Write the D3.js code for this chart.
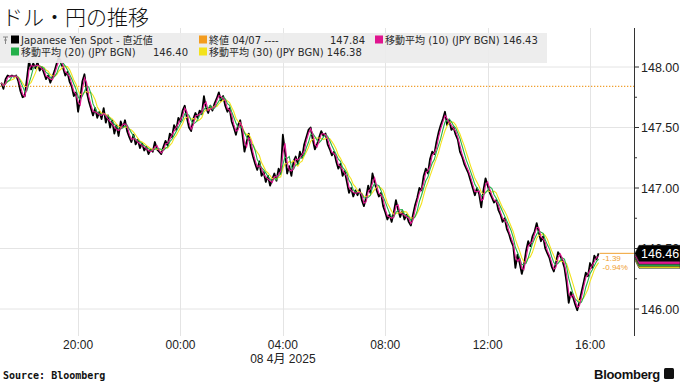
<!DOCTYPE html>
<html>
<head>
<meta charset="utf-8">
<script src="https://cdn.jsdelivr.net/npm/d3@7"></script>
<style>
body { margin: 0; background: #fff; }
</style>
</head>
<body>
<script>
// ---- data ----
var title = "ドル・円の推移";
var startTime = Date.UTC(2025, 3, 7, 17, 0);  // 04/07 17:00, 5 minute steps
var stepMin = 5;

var spot = [
  147.87,147.82,147.90,147.93,147.92,147.93,147.92,147.93,147.88,147.80,147.75,147.76,
  147.90,148.05,147.98,148.03,147.99,148.04,147.97,148.00,147.95,147.90,147.93,147.87,
  147.92,147.97,148.03,148.08,148.03,147.99,147.93,147.96,147.88,147.84,147.76,147.79,
  147.63,147.74,147.88,147.94,147.80,147.72,147.66,147.60,147.66,147.58,147.63,147.57,
  147.66,147.54,147.60,147.50,147.56,147.45,147.52,147.43,147.55,147.50,147.56,147.47,
  147.42,147.38,147.44,147.36,147.40,147.33,147.37,147.31,147.34,147.28,147.32,147.30,
  147.38,147.32,147.30,147.28,147.34,147.39,147.35,147.45,147.42,147.52,147.48,147.58,
  147.55,147.64,147.68,147.58,147.50,147.47,147.57,147.62,147.58,147.64,147.61,147.76,
  147.66,147.62,147.68,147.64,147.70,147.74,147.79,147.72,147.76,147.68,147.63,147.66,
  147.55,147.50,147.44,147.52,147.56,147.45,147.30,147.38,147.45,147.33,147.26,147.20,
  147.15,147.22,147.10,147.13,147.05,147.10,147.02,147.07,147.12,147.06,147.16,147.12,
  147.44,147.30,147.12,147.18,147.10,147.22,147.26,147.20,147.30,147.25,147.36,147.42,
  147.48,147.50,147.40,147.32,147.36,147.42,147.47,147.43,147.45,147.36,147.32,147.27,
  147.30,147.22,147.16,147.20,147.10,147.14,147.05,146.96,147.00,146.93,146.98,146.94,
  146.99,146.90,146.85,146.92,147.02,146.96,147.12,147.05,146.98,146.93,146.96,146.85,
  146.80,146.74,146.78,146.72,146.80,146.90,146.82,146.76,146.81,146.74,146.78,146.72,
  146.69,146.78,146.86,146.92,147.00,146.98,147.10,147.16,147.12,147.24,147.30,147.28,
  147.38,147.46,147.52,147.57,147.63,147.52,147.56,147.48,147.50,147.44,147.40,147.30,
  147.26,147.20,147.16,147.12,147.06,147.00,146.94,147.00,146.95,146.84,146.98,147.08,
  147.02,146.96,146.92,146.88,146.90,146.82,146.78,146.72,146.75,146.66,146.62,146.56,
  146.52,146.34,146.45,146.38,146.29,146.36,146.48,146.56,146.52,146.60,146.64,146.71,
  146.63,146.56,146.60,146.50,146.46,146.42,146.35,146.31,146.38,146.47,146.44,146.40,
  146.34,146.22,146.05,146.14,146.10,146.04,145.99,146.06,146.14,146.22,146.30,146.27,
  146.38,146.34,146.44,146.41,146.46
];

var maWindows = [2, 4, 6];          // 10, 20, 30 minutes on 5 minute bars
var maColors = ["#e0158f", "#24b04a", "#f3e21c"];
var prevClose = 147.84;
var lastLabel = "146.46";
var changeLabels = ["-1.39", "-0.94%"];

var yTicks = [146, 146.5, 147, 147.5, 148];
var yMinor = [146.25, 146.75, 147.25, 147.75];
var dateLabel = "08 4月 2025";

var legendNames = ["Japanese Yen Spot - 直近値", "終値 04/07 ----", "移動平均 (10) (JPY BGN)",
                   "移動平均 (20) (JPY BGN)", "移動平均 (30) (JPY BGN)"];
var legendValues = ["", "147.84", "146.43", "146.40", "146.38"];
var legendColors = ["#000000", "#f39c1f", "#e0158f", "#24b04a", "#f3e21c"];

// ---- setup ----
var W = 680, H = 382;
var plotL = 0, plotR = 634, plotT = 28, plotB = 336;
var axisFont = "'Liberation Sans', Arial, sans-serif";
var legFont = "'DejaVu Sans', 'Noto Sans CJK JP', sans-serif";

var svg = d3.select("body").append("svg")
  .attr("width", W)
  .attr("height", H);

var x = d3.scaleUtc()
  .domain([new Date(Date.UTC(2025, 3, 7, 16, 57)), new Date(Date.UTC(2025, 3, 8, 17, 43))])
  .range([plotL, plotR]);

var y = d3.scaleLinear()
  .domain([146, 148])
  .range([309, 67]);

var points = spot.map(function(v, i) {
  return { t: new Date(startTime + i * stepMin * 60000), v: v };
});

function movingAvg(vals, n) {
  return vals.map(function(v, i) {
    return d3.mean(vals.slice(Math.max(0, i - n + 1), i + 1));
  });
}

// title
svg.append("text")
  .attr("x", 2)
  .attr("y", 25)
  .style("font-family", "'Noto Sans CJK JP', sans-serif")
  .style("font-weight", 300)
  .style("font-size", "21px")
  .style("fill", "#111")
  .text(title);

// grid
var xTicks = x.ticks(d3.utcHour.every(4));
svg.append("g").selectAll("line").data(yTicks).enter().append("line")
  .attr("x1", plotL).attr("x2", plotR)
  .attr("y1", function(d) { return y(d); })
  .attr("y2", function(d) { return y(d); })
  .style("stroke", "#e4e4e4");

svg.append("g").selectAll("line").data(xTicks).enter().append("line")
  .attr("x1", function(d) { return Math.round(x(d)) + 0.5; })
  .attr("x2", function(d) { return Math.round(x(d)) + 0.5; })
  .attr("y1", plotT).attr("y2", plotB)
  .style("stroke", "#e4e4e4");

// clip for the series
svg.append("clipPath").attr("id", "clip")
  .append("rect").attr("x", plotL).attr("y", plotT)
  .attr("width", plotR - plotL).attr("height", plotB - plotT);

var plot = svg.append("g").attr("clip-path", "url(#clip)");

// previous close, dotted
plot.append("line")
  .attr("x1", plotL).attr("x2", plotR)
  .attr("y1", y(prevClose)).attr("y2", y(prevClose))
  .style("stroke", "#f0a030")
  .style("stroke-width", 1.3)
  .style("stroke-dasharray", "1.3,1.7");

var line = d3.line()
  .x(function(d) { return x(d.t); })
  .y(function(d) { return y(d.v); });

// spot price
plot.append("path")
  .datum(points)
  .attr("d", line)
  .style("fill", "none")
  .style("stroke", "#000")
  .style("stroke-width", 1.8)
  .style("stroke-linejoin", "round");

// moving averages (30 first so 10 sits on top)
[2, 1, 0].forEach(function(k) {
  var ma = movingAvg(spot, maWindows[k]);
  plot.append("path")
    .datum(points.map(function(p, i) { return { t: p.t, v: ma[i] }; }))
    .attr("d", line)
    .style("fill", "none")
    .style("stroke", maColors[k])
    .style("stroke-width", 1.1);
});

// change annotation
var last = points[points.length - 1];
svg.append("line")
  .attr("x1", x(last.t) + 1).attr("x2", plotR)
  .attr("y1", y(last.v)).attr("y2", y(last.v))
  .style("stroke", "#f0a030");

svg.selectAll(".chg").data(changeLabels).enter().append("text")
  .attr("x", x(last.t) + 4)
  .attr("y", function(d, i) { return y(last.v) + 8 + i * 9; })
  .style("font-family", axisFont)
  .style("font-size", "8px")
  .style("fill", "#f0a030")
  .text(function(d) { return d; });

// legend
svg.append("rect")
  .attr("x", 0).attr("y", 33)
  .attr("width", 547).attr("height", 30)
  .style("fill", "#ececec")
  .style("opacity", 0.92);

// pin icon
svg.append("path")
  .attr("d", "M3,37 h5 M5.5,37 v7 M4,40 h3")
  .style("stroke", "#888")
  .style("fill", "none");

var legPos = [[11, 40], [199, 40], [375, 40], [11, 52], [199, 52]];
var valRight = [null, 365, null, 188, null];

legendNames.forEach(function(name, i) {
  var px = legPos[i][0], py = legPos[i][1];
  svg.append("rect")
    .attr("x", px).attr("y", py - 4.5)
    .attr("width", 8).attr("height", 8)
    .style("fill", legendColors[i]);
  var t = svg.append("text")
    .attr("x", px + 10).attr("y", py)
    .attr("dy", "0.36em")
    .style("font-family", legFont)
    .style("font-size", "10px")
    .style("fill", "#2a2a2a");
  if (valRight[i] == null) {
    t.text(name + (legendValues[i] ? " " + legendValues[i] : ""));
  } else {
    t.text(name);
    svg.append("text")
      .attr("x", valRight[i]).attr("y", py)
      .attr("dy", "0.36em")
      .attr("text-anchor", "end")
      .style("font-family", legFont)
      .style("font-size", "10px")
      .style("fill", "#2a2a2a")
      .text(legendValues[i]);
  }
});

// right axis
svg.append("line")
  .attr("x1", plotR + 0.5).attr("x2", plotR + 0.5)
  .attr("y1", plotT).attr("y2", plotB)
  .style("stroke", "#333");

svg.append("g").selectAll("line").data(yTicks.concat(yMinor)).enter().append("line")
  .attr("x1", plotR).attr("x2", function(d) { return yTicks.indexOf(d) >= 0 ? plotR + 5 : plotR + 3; })
  .attr("y1", function(d) { return y(d); })
  .attr("y2", function(d) { return y(d); })
  .style("stroke", "#333");

svg.append("g").selectAll("text").data(yTicks).enter().append("text")
  .attr("x", plotR + 7)
  .attr("y", function(d) { return y(d); })
  .attr("dy", "0.36em")
  .style("font-family", axisFont)
  .style("font-size", "12.5px")
  .style("fill", "#222")
  .text(function(d) { return d3.format(".2f")(d); });

// value tags on the axis (they cover the 146.50 label, as in the original)
var tagY = y(last.v);
function tag(top, h, fill) {
  svg.append("path")
    .attr("d", "M" + (plotR + 1) + "," + (top + h / 2) + " L" + (plotR + 5) + "," + top +
      " H" + W + " V" + (top + h) + " H" + (plotR + 5) + " Z")
    .style("fill", fill)
    .style("stroke", "#222")
    .style("stroke-width", 0.6);
}
tag(tagY - 1, 16, maColors[2]);
tag(tagY - 3, 16, maColors[1]);
tag(tagY - 5, 16, maColors[0]);
tag(tagY - 8, 16, "#000");
svg.append("text")
  .attr("x", plotR + 7)
  .attr("y", tagY)
  .attr("dy", "0.36em")
  .style("font-family", axisFont)
  .style("font-size", "12.5px")
  .style("fill", "#fff")
  .text(lastLabel);

// bottom axis labels
svg.append("g").selectAll("text").data(xTicks).enter().append("text")
  .attr("x", function(d) { return x(d); })
  .attr("y", 349)
  .attr("text-anchor", "middle")
  .style("font-family", axisFont)
  .style("font-size", "12px")
  .style("fill", "#222")
  .text(d3.utcFormat("%H:%M"));

svg.append("text")
  .attr("x", x(new Date(Date.UTC(2025, 3, 8, 4, 0))))
  .attr("y", 363)
  .attr("text-anchor", "middle")
  .style("font-family", "'Liberation Sans', 'Noto Sans CJK JP', sans-serif")
  .style("font-size", "12px")
  .style("fill", "#222")
  .text(dateLabel);

// footer
svg.append("text")
  .attr("x", 3).attr("y", 379)
  .style("font-family", "'DejaVu Sans Mono', monospace")
  .style("font-weight", "bold")
  .style("font-size", "10px")
  .style("fill", "#111")
  .text("Source: Bloomberg");

svg.append("text")
  .attr("x", 660).attr("y", 379)
  .attr("text-anchor", "end")
  .style("font-family", axisFont)
  .style("font-weight", "bold")
  .style("font-size", "13px")
  .style("letter-spacing", "-0.3px")
  .style("fill", "#111")
  .text("Bloomberg");

svg.append("rect")
  .attr("x", 664).attr("y", 368)
  .attr("width", 10).attr("height", 11)
  .attr("rx", 1.5)
  .style("fill", "#111");
</script>
</body>
</html>
